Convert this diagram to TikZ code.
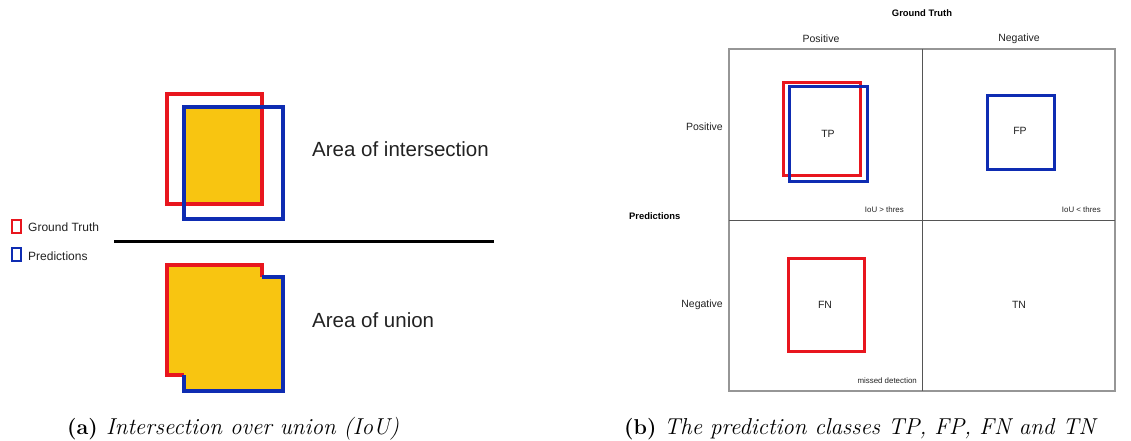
\documentclass[tikz,border=0pt]{standalone}
\usepackage{fontspec}
\newfontfamily\sansf{Liberation Sans}
\definecolor{gtred}{RGB}{232,22,30}
\definecolor{prblue}{RGB}{14,44,178}
\definecolor{iouyellow}{RGB}{248,197,17}
\definecolor{txtgray}{RGB}{34,34,34}
\definecolor{gridgray}{RGB}{150,150,150}
\definecolor{griddark}{RGB}{85,85,85}
\begin{document}
\begin{tikzpicture}[x=1pt,y=-1pt,
  gtbox/.style={draw=gtred,line width=3.3pt},
  prbox/.style={draw=prblue,line width=3.3pt},
  gtsm/.style={draw=gtred,line width=3pt},
  prsm/.style={draw=prblue,line width=3pt},
  bigtxt/.style={text=txtgray,font=\sansf\fontsize{20.5}{24}\selectfont,inner sep=0pt},
  legtxt/.style={text=txtgray,font=\sansf\fontsize{12}{14}\selectfont,inner sep=0pt,anchor=west},
  mtxt/.style={text=txtgray,font=\sansf\fontsize{10.5}{12}\selectfont,inner sep=0pt},
  btxt/.style={text=black,font=\sansf\bfseries\fontsize{9.4}{11}\selectfont,inner sep=0pt},
  stxt/.style={text=txtgray,font=\sansf\fontsize{7.9}{9}\selectfont,inner sep=0pt,anchor=east},
  caplab/.style={font=\bfseries\fontsize{21.5}{24}\selectfont,inner sep=0pt,anchor=base west},
  captxt/.style={font=\itshape\fontsize{23}{26}\selectfont,inner sep=0pt,anchor=base west}]
\useasboundingbox (0,0) rectangle (1131,441);
% ---------- (a) IoU ----------
\fill[iouyellow] (184,107) rectangle (262,204);
\draw[gtbox] (167,94) rectangle (262,204);
\draw[prbox] (184,107) rectangle (283,219);
\node[bigtxt,anchor=base west] (inter) at (312,156) {Area of intersection};
\draw[line width=3pt,black] (114,241) -- (494,241);
\fill[iouyellow] (167,265) -- (262,265) -- (262,277) -- (283,277) -- (283,391) -- (184,391) -- (184,375) -- (167,375) -- cycle;
\draw[gtbox] (184,375) -- (167,375) -- (167,265) -- (262,265) -- (262,277);
\draw[prbox] (262,277) -- (283,277) -- (283,391) -- (184,391) -- (184,375);
\node[bigtxt,anchor=base west] (union) at (312,327) {Area of union};
% legend
\draw[gtred,line width=2.6pt] (12,220) rectangle (21,233);
\draw[prblue,line width=2.6pt] (12,248) rectangle (21,261);
\node[legtxt] (leggt) at (28,227) {Ground Truth};
\node[legtxt] (legpr) at (28,256) {Predictions};
% ---------- (b) matrix ----------
\draw[gridgray,line width=1.3pt] (729,49) rectangle (1115,391);
\draw[griddark,line width=0.9pt] (922,49) -- (922,391);
\draw[griddark,line width=0.9pt] (729,220) -- (1115,220);
\node[btxt] (gtitle) at (922,13) {Ground Truth};
\node[mtxt] (cpos) at (821,39) {Positive};
\node[mtxt] (cneg) at (1019,39) {Negative};
\node[mtxt,anchor=east] (rpos) at (723,127) {Positive};
\node[mtxt,anchor=east] (rneg) at (723,305) {Negative};
\node[btxt,anchor=west] (pred) at (629,216) {Predictions};
% TP
\draw[gtsm] (783,83) rectangle (860,175);
\draw[prsm] (789,87) rectangle (867,181);
\node[mtxt] (tp) at (828,134) {TP};
% FP
\draw[prsm] (987,96) rectangle (1054,169);
\node[mtxt] (fp) at (1020,131) {FP};
% FN
\draw[gtsm] (788,258) rectangle (864,351);
\node[mtxt] (fn) at (825,305) {FN};
\node[mtxt] (tn) at (1019,305) {TN};
\node[stxt] (iougt) at (904,210) {IoU > thres};
\node[stxt] (ioult) at (1101,210) {IoU < thres};
\node[stxt] (missed) at (917,381) {missed detection};
% captions
\node[caplab] (laba) at (67,434) {(a)};
\node[captxt] (capa) at (106,434) {Intersection over union (IoU)};
\node[caplab] (labb) at (624,434) {(b)};
\node[captxt] (capb) at (664,434) {The prediction classes TP, FP, FN and TN};
\end{tikzpicture}
\end{document}
